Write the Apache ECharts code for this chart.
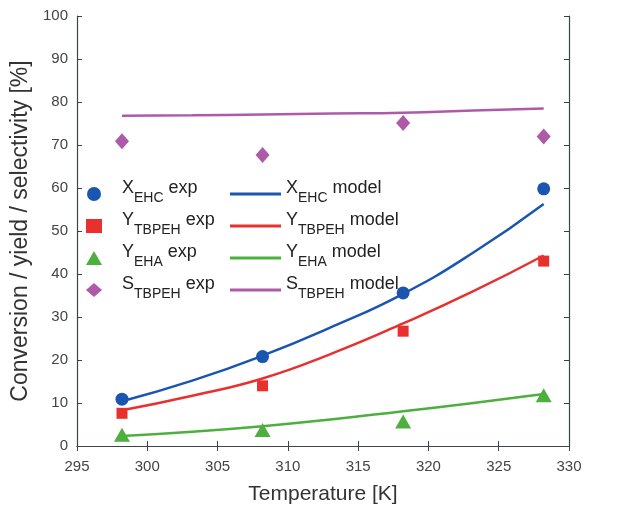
<!DOCTYPE html>
<html>
<head>
<meta charset="utf-8">
<script src="https://cdn.jsdelivr.net/npm/echarts@6/dist/echarts.min.js"></script>
<style>
html, body { margin: 0; padding: 0; background: #fff; }
#main { width: 639px; height: 505px; }
</style>
</head>
<body>
<div id="main"></div>
<script>
// 实验温度
var expTemps = [298.2, 308.2, 318.2, 328.2];
// 实验数据
var xEhcExp = [10.9, 20.8, 35.6, 59.8];
var yTbpehExp = [7.6, 14.0, 26.7, 43.0];
var yEhaExp = [2.6, 3.7, 5.7, 11.8];
var sTbpehExp = [70.9, 67.7, 75.1, 72.0];
// 模型曲线
var modelTemps = [298.2, 303.2, 308.2, 313.2, 318.2, 323.2, 328.2];
var xEhcModel = [10.4, 15.2, 21.0, 27.8, 35.4, 45.0, 56.3];
var yTbpehModel = [8.3, 11.7, 15.7, 21.6, 28.5, 36.0, 44.3];
var yEhaModel = [2.3, 3.3, 4.6, 6.2, 8.1, 10.0, 12.1];
var sTbpehModel = [76.8, 76.9, 77.1, 77.3, 77.5, 78.0, 78.5];

var colors = {
    blue: '#1a55b0',
    red: '#e8312f',
    green: '#4caf3e',
    purple: '#ae5aa8'
};

// 把数组组合成[x, y]
function pairs(xs, ys) {
    var out = [];
    for (var i = 0; i < xs.length; i++) out.push([xs[i], ys[i]]);
    return out;
}

var names = {
    'X_EHC exp': ['X', 'EHC', 'exp'],
    'Y_TBPEH exp': ['Y', 'TBPEH', 'exp'],
    'Y_EHA exp': ['Y', 'EHA', 'exp'],
    'S_TBPEH exp': ['S', 'TBPEH', 'exp'],
    'X_EHC model': ['X', 'EHC', 'model'],
    'Y_TBPEH model': ['Y', 'TBPEH', 'model'],
    'Y_EHA model': ['Y', 'EHA', 'model'],
    'S_TBPEH model': ['S', 'TBPEH', 'model']
};

function legendFmt(name) {
    var p = names[name];
    return '{n|' + p[0] + '}{s|' + p[1] + '}{n| ' + p[2] + '}';
}

var fontFam = 'Liberation Sans';
var richStyle = {
    n: { fontSize: 18, color: '#222', fontFamily: fontFam, lineHeight: 30, verticalAlign: 'top' },
    s: { fontSize: 14, color: '#222', fontFamily: fontFam, lineHeight: 30, verticalAlign: 'top', padding: [12, 0, 0, 0] }
};

var axisLine = { show: true, lineStyle: { color: '#3c4448', width: 1.2 } };
var tick = { inside: true, length: 5, lineStyle: { color: '#3c4448' } };

var myChart = echarts.init(document.getElementById('main'), null, { renderer: 'canvas' });

var option = {
    animation: false,
    grid: { left: 77, right: 70, top: 16, bottom: 59, containLabel: false, outerBoundsMode: 'none' },
    legend: [
        {
            data: ['X_EHC exp', 'Y_TBPEH exp', 'Y_EHA exp', 'S_TBPEH exp'],
            orient: 'vertical',
            left: 86,
            top: 179,
            padding: 0,
            itemGap: 6,
            itemWidth: 16,
            itemHeight: 14,
            formatter: legendFmt,
            textStyle: { rich: richStyle, padding: [0, 0, 0, 15] }
        },
        {
            data: [
                { name: 'X_EHC model', icon: 'rect' },
                { name: 'Y_TBPEH model', icon: 'rect' },
                { name: 'Y_EHA model', icon: 'rect' },
                { name: 'S_TBPEH model', icon: 'rect' }
            ],
            orient: 'vertical',
            left: 230,
            top: 179,
            padding: 0,
            itemGap: 6,
            itemWidth: 51,
            itemHeight: 3,
            formatter: legendFmt,
            textStyle: { rich: richStyle }
        }
    ],
    xAxis: [
        {
            type: 'value', min: 295, max: 330, interval: 5,
            name: 'Temperature [K]', nameLocation: 'middle', nameGap: 38,
            nameTextStyle: { fontSize: 21, color: '#333', fontFamily: fontFam },
            axisLine: axisLine,
            axisTick: tick,
            axisLabel: { fontSize: 15, color: '#444', fontFamily: fontFam, margin: 13 },
            splitLine: { show: false }
        },
        {
            type: 'value', min: 295, max: 330, interval: 5, position: 'top',
            axisLine: axisLine,
            axisTick: tick,
            axisLabel: { show: false },
            splitLine: { show: false }
        }
    ],
    yAxis: [
        {
            type: 'value', min: 0, max: 100, interval: 10,
            name: 'Conversion / yield / selectivity [%]', nameLocation: 'middle', nameGap: 43,
            nameTextStyle: { fontSize: 23, color: '#333', fontFamily: fontFam },
            axisLine: axisLine,
            axisTick: tick,
            axisLabel: { fontSize: 15, color: '#444', fontFamily: fontFam, margin: 9 },
            splitLine: { show: false }
        },
        {
            type: 'value', min: 0, max: 100, interval: 10, position: 'right',
            axisLine: axisLine,
            axisTick: tick,
            axisLabel: { show: false },
            splitLine: { show: false }
        }
    ],
    series: [
        // 模型曲线
        { name: 'X_EHC model', type: 'line', smooth: true, symbol: 'none', data: pairs(modelTemps, xEhcModel), color: colors.blue, lineStyle: { width: 2.5, color: colors.blue } },
        { name: 'Y_TBPEH model', type: 'line', smooth: true, symbol: 'none', data: pairs(modelTemps, yTbpehModel), color: colors.red, lineStyle: { width: 2.5, color: colors.red } },
        { name: 'Y_EHA model', type: 'line', smooth: true, symbol: 'none', data: pairs(modelTemps, yEhaModel), color: colors.green, lineStyle: { width: 2.5, color: colors.green } },
        { name: 'S_TBPEH model', type: 'line', smooth: true, symbol: 'none', data: pairs(modelTemps, sTbpehModel), color: colors.purple, lineStyle: { width: 2.5, color: colors.purple } },
        // 实验点
        { name: 'X_EHC exp', type: 'scatter', symbol: 'circle', symbolSize: 13, data: pairs(expTemps, xEhcExp), itemStyle: { color: colors.blue, opacity: 1 } },
        { name: 'Y_TBPEH exp', type: 'scatter', symbol: 'rect', symbolSize: 11, data: pairs(expTemps, yTbpehExp), itemStyle: { color: colors.red, opacity: 1 } },
        { name: 'Y_EHA exp', type: 'scatter', symbol: 'triangle', symbolSize: [16, 14], data: pairs(expTemps, yEhaExp), itemStyle: { color: colors.green, opacity: 1 } },
        { name: 'S_TBPEH exp', type: 'scatter', symbol: 'diamond', symbolSize: [14, 16], data: pairs(expTemps, sTbpehExp), itemStyle: { color: colors.purple, opacity: 1 } }
    ]
};

myChart.setOption(option);
window.addEventListener('resize', function () { myChart.resize(); });
</script>
</body>
</html>
